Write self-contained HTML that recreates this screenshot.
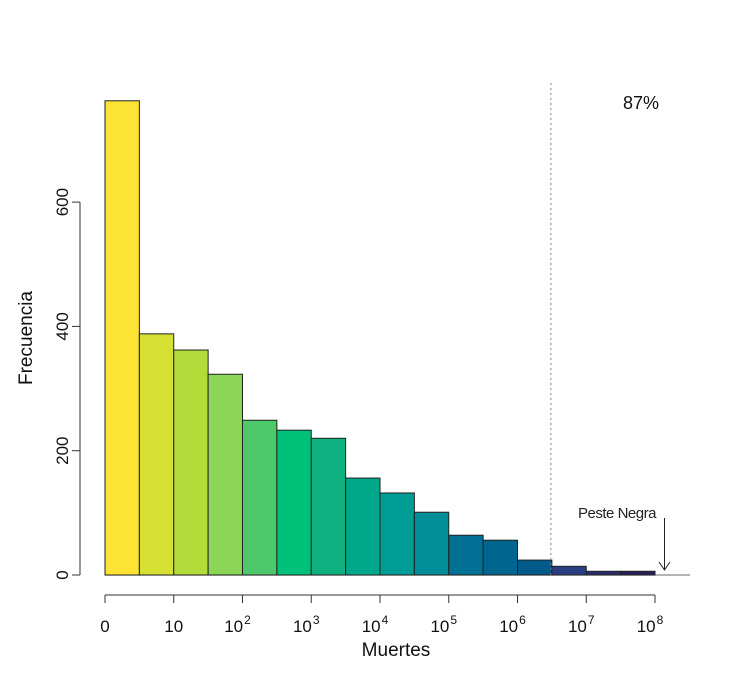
<!DOCTYPE html>
<html><head><meta charset="utf-8"><style>body{margin:0;background:#fff}svg{display:block;font-family:"Liberation Sans",sans-serif}</style></head>
<body>
<svg id="c" width="754" height="696"></svg>
<script>
const binStarts=[0,0.5,1,1.5,2,2.5,3,3.5,4,4.5,5,5.5,6,6.5,7,7.5];
const counts=[763,388,362,323,249,233,220,156,132,101,64,56,24,14,6,6];
const colors=["#FDE333","#D6E033","#B3DC3B","#8BD656","#4DC86A","#00C17A","#10B181","#00A88B","#009C96","#008E98","#007094","#006690","#005A8A","#283E80","#2A2A6F","#2A1F5E"];
const yTicks=[0,200,400,600];
const xTicks=[0,1,2,3,4,5,6,7,8];
const xLabels=["0","10","10|2","10|3","10|4","10|5","10|6","10|7","10|8"];
const cutoff=6.5, pctLabel="87%";
const NS="http://www.w3.org/2000/svg";
const svg=document.getElementById('c');
const X=v=>105+v*68.75, Y=v=>575-v*0.6215;
function mk(t,a,p){const e=document.createElementNS(NS,t);for(const k in a)e.setAttribute(k,a[k]);(p||svg).appendChild(e);return e;}
let bl=mk('line',{x1:105,x2:690,y1:575,y2:575,stroke:'#888','stroke-width':1.2});


counts.forEach((c,i)=>{
 const r=mk('rect',{x:X(binStarts[i]),y:Y(c),width:X(binStarts[i]+0.5)-X(binStarts[i]),height:Y(0)-Y(c),fill:colors[i],stroke:'#222','stroke-width':1});
 
 
});
let ya=mk('g',{});


mk('line',{x1:80,x2:80,y1:Y(yTicks[0]),y2:Y(yTicks[yTicks.length-1]),stroke:'#333'},ya);
yTicks.forEach(t=>{
 mk('line',{x1:72,x2:80,y1:Y(t),y2:Y(t),stroke:'#333'},ya);
 const tx=mk('text',{x:0,y:0,transform:`translate(68,${Y(t)}) rotate(-90)`,'text-anchor':'middle','font-size':17,fill:'#111'},ya);
 tx.textContent=t;
 
 
});
let yt=mk('text',{transform:'translate(32,338) rotate(-90)','text-anchor':'middle','font-size':19,fill:'#111'});
yt.textContent='Frecuencia';


let xa=mk('g',{});


mk('line',{x1:X(xTicks[0]),x2:X(xTicks[xTicks.length-1]),y1:595,y2:595,stroke:'#333'},xa);
xTicks.forEach((t,i)=>{
 mk('line',{x1:X(t),x2:X(t),y1:595,y2:603,stroke:'#333'},xa);
 const [b,e]=xLabels[i].split('|');
 const tx=mk('text',{x:X(t)+(e?-5:0),y:632,'text-anchor':'middle','font-size':17,fill:'#111'},xa);
 tx.textContent=b;
 if(e){const s=mk('tspan',{dx:1,dy:-8,'font-size':12},tx);s.textContent=e;}
 
 
});
let xt=mk('text',{x:396,y:656,'text-anchor':'middle','font-size':19,fill:'#111'});
xt.textContent='Muertes';


let dl=mk('line',{x1:X(cutoff)-1,x2:X(cutoff)-1,y1:83,y2:575,stroke:'#a07080','stroke-dasharray':'2,3','stroke-width':1});


let pt=mk('text',{x:641,y:109,'text-anchor':'middle','font-size':18,fill:'#111'});
pt.textContent=pctLabel;


let an=mk('text',{x:617,y:518,'text-anchor':'middle','font-size':15,fill:'#222','letter-spacing':'-0.5'});
an.textContent='Peste Negra';


let ar=mk('path',{d:'M664.5,518 V570 M659,562 L664.5,570 L670,562',stroke:'#222',fill:'none','stroke-width':1});


</script>
</body></html>
